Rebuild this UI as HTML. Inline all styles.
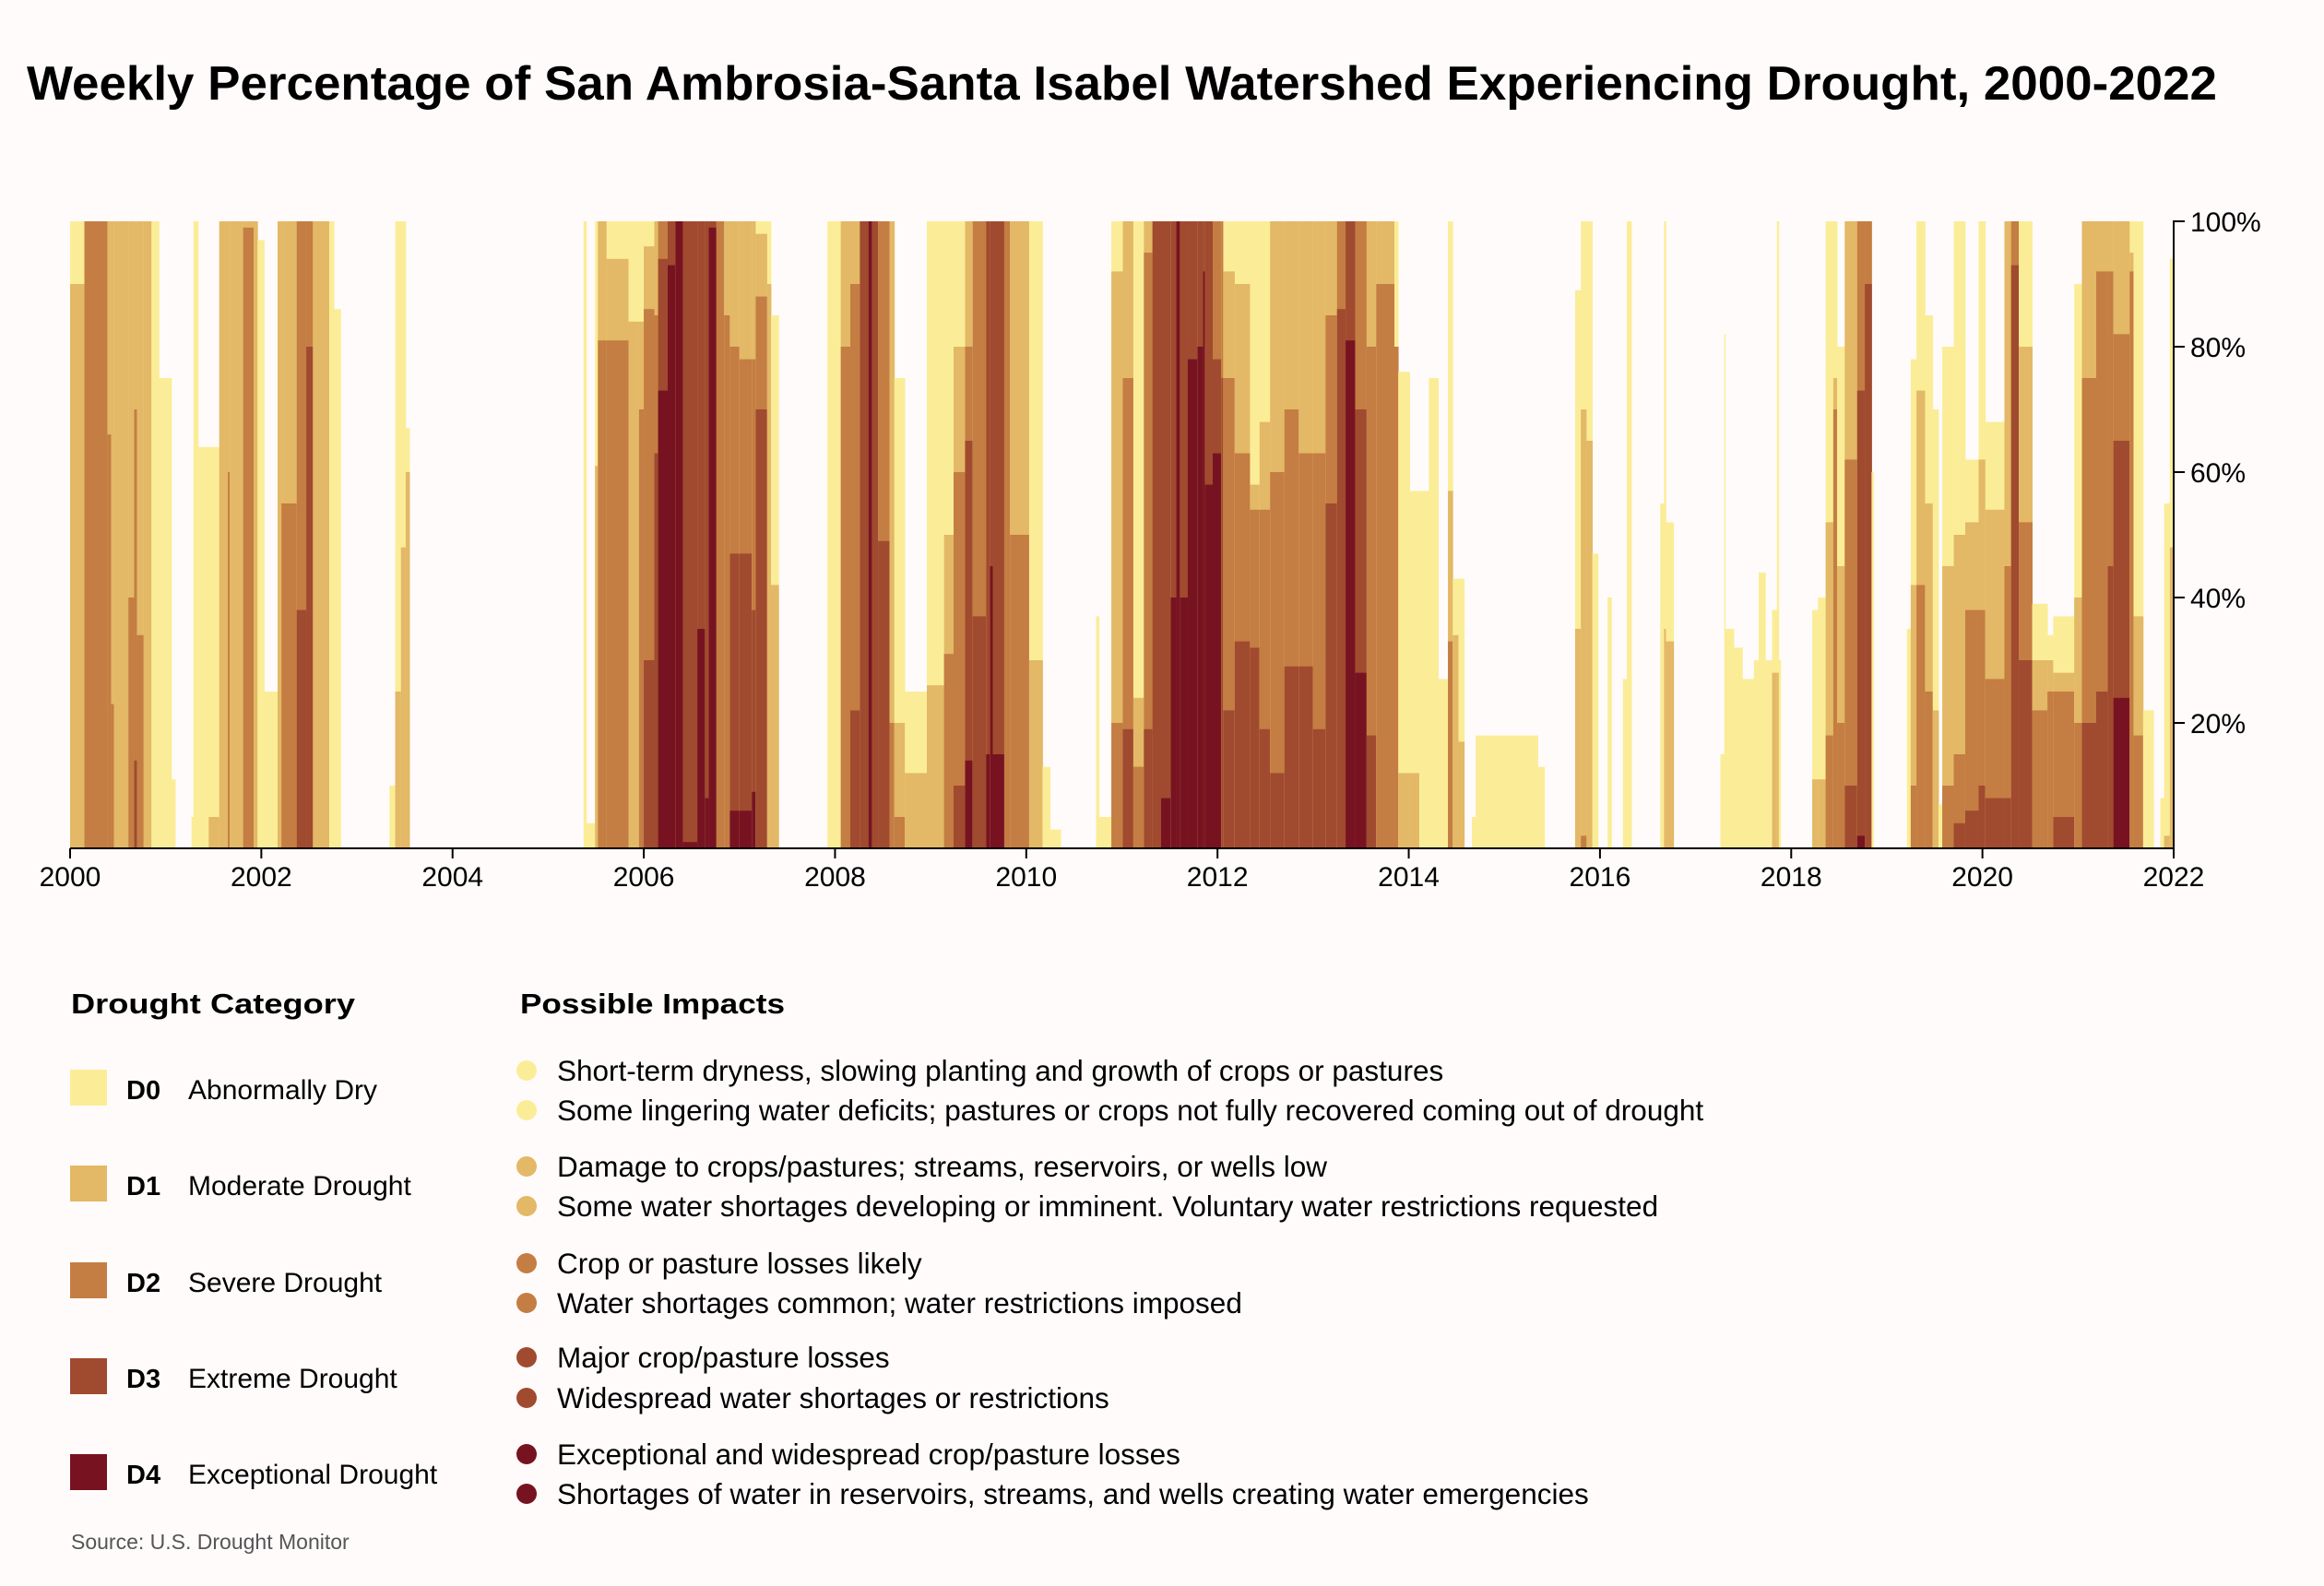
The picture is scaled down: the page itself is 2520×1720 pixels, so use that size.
<!DOCTYPE html>
<html><head><meta charset="utf-8"><style>
html,body{margin:0;padding:0;background:#fffbfb;}
svg{display:block;font-family:"Liberation Sans",sans-serif;}
</style></head><body>
<svg id="chart" width="2520" height="1720" viewBox="0 0 2520 1720" xmlns="http://www.w3.org/2000/svg">
<rect x="0" y="0" width="2520" height="1720" fill="#fffbfb"/>
<text x="29" y="108" font-size="52" font-weight="bold" fill="#000" textLength="2375" lengthAdjust="spacingAndGlyphs">Weekly Percentage of San Ambrosia-Santa Isabel Watershed Experiencing Drought, 2000-2022</text>
<g id="bars"></g>
<g id="axes"></g>

<g>
<text x="77" y="1099" font-size="31" font-weight="bold" textLength="308" lengthAdjust="spacingAndGlyphs">Drought Category</text>
<rect x="76" y="1160" width="40" height="39" fill="#fbed97"/>
<text x="137" y="1192" font-size="29" font-weight="bold">D0</text>
<text x="204" y="1192" font-size="30">Abnormally Dry</text>
<rect x="76" y="1264" width="40" height="39" fill="#e3b866"/>
<text x="137" y="1296" font-size="29" font-weight="bold">D1</text>
<text x="204" y="1296" font-size="30">Moderate Drought</text>
<rect x="76" y="1369" width="40" height="39" fill="#c47d43"/>
<text x="137" y="1401" font-size="29" font-weight="bold">D2</text>
<text x="204" y="1401" font-size="30">Severe Drought</text>
<rect x="76" y="1473" width="40" height="39" fill="#a04a2f"/>
<text x="137" y="1505" font-size="29" font-weight="bold">D3</text>
<text x="204" y="1505" font-size="30">Extreme Drought</text>
<rect x="76" y="1577" width="40" height="39" fill="#771321"/>
<text x="137" y="1609" font-size="29" font-weight="bold">D4</text>
<text x="204" y="1609" font-size="30">Exceptional Drought</text>
</g>

<g font-size="31.5">
<text x="564" y="1099" font-size="31" font-weight="bold" textLength="287" lengthAdjust="spacingAndGlyphs">Possible Impacts</text>
<circle cx="571" cy="1161" r="11" fill="#fbed97"/>
<text x="604" y="1172">Short-term dryness, slowing planting and growth of crops or pastures</text>
<circle cx="571" cy="1204" r="11" fill="#fbed97"/>
<text x="604" y="1215">Some lingering water deficits; pastures or crops not fully recovered coming out of drought</text>
<circle cx="571" cy="1265" r="11" fill="#e3b866"/>
<text x="604" y="1276">Damage to crops/pastures; streams, reservoirs, or wells low</text>
<circle cx="571" cy="1308" r="11" fill="#e3b866"/>
<text x="604" y="1319">Some water shortages developing or imminent. Voluntary water restrictions requested</text>
<circle cx="571" cy="1370" r="11" fill="#c47d43"/>
<text x="604" y="1381">Crop or pasture losses likely</text>
<circle cx="571" cy="1413" r="11" fill="#c47d43"/>
<text x="604" y="1424">Water shortages common; water restrictions imposed</text>
<circle cx="571" cy="1472" r="11" fill="#a04a2f"/>
<text x="604" y="1483">Major crop/pasture losses</text>
<circle cx="571" cy="1516" r="11" fill="#a04a2f"/>
<text x="604" y="1527">Widespread water shortages or restrictions</text>
<circle cx="571" cy="1577" r="11" fill="#771321"/>
<text x="604" y="1588">Exceptional and widespread crop/pasture losses</text>
<circle cx="571" cy="1620" r="11" fill="#771321"/>
<text x="604" y="1631">Shortages of water in reservoirs, streams, and wells creating water emergencies</text>
</g>
<text x="77" y="1680" font-size="23" fill="#555">Source: U.S. Drought Monitor</text>
</svg>
<script>
// segment start times (fractional years); each segment runs to the next start
const segStart = [
2000.00,2000.15,2000.39,2000.43,2000.46,2000.61,2000.67,2000.70,2000.77,2000.85,
2000.93,2001.06,2001.10,2001.27,2001.29,2001.34,2001.45,2001.56,2001.65,2001.67,
2001.81,2001.92,2001.96,2002.03,2002.17,2002.21,2002.37,2002.47,2002.54,2002.71,
2002.76,2002.83,2003.34,2003.40,2003.46,2003.51,2003.55,2005.37,2005.40,2005.49,
2005.52,2005.61,2005.84,2005.95,2006.00,2006.11,2006.15,2006.25,2006.33,2006.41,
2006.56,2006.64,2006.68,2006.76,2006.84,2006.90,2007.00,2007.13,2007.17,2007.29,
2007.33,2007.41,2007.92,2008.06,2008.16,2008.26,2008.35,2008.39,2008.45,2008.57,
2008.62,2008.73,2008.96,2009.14,2009.24,2009.36,2009.44,2009.58,2009.62,2009.65,
2009.77,2009.83,2010.03,2010.17,2010.25,2010.36,2010.73,2010.76,2010.89,2011.01,
2011.12,2011.23,2011.32,2011.41,2011.51,2011.57,2011.61,2011.69,2011.79,2011.85,
2011.87,2011.95,2012.04,2012.06,2012.18,2012.34,2012.44,2012.55,2012.70,2012.85,
2013.00,2013.13,2013.25,2013.34,2013.44,2013.56,2013.66,2013.85,2013.89,2014.01,
2014.11,2014.21,2014.31,2014.41,2014.46,2014.52,2014.58,2014.66,2014.70,2015.35,
2015.42,2015.74,2015.80,2015.86,2015.92,2015.98,2016.08,2016.12,2016.24,2016.28,
2016.33,2016.63,2016.67,2016.69,2016.77,2017.26,2017.30,2017.31,2017.40,2017.49,
2017.61,2017.66,2017.73,2017.80,2017.85,2017.87,2017.89,2018.22,2018.28,2018.36,
2018.44,2018.48,2018.56,2018.69,2018.77,2018.84,2018.86,2019.21,2019.25,2019.31,
2019.40,2019.48,2019.54,2019.58,2019.70,2019.82,2019.96,2020.03,2020.23,2020.30,
2020.38,2020.52,2020.68,2020.74,2020.96,2021.04,2021.19,2021.31,2021.37,2021.54,
2021.58,2021.68,2021.79,2021.86,2021.90,2021.96];
const endYear = 2022.0;
// cumulative % of area in category or worse
const d0 = [
100,100,100,100,100,100,100,100,100,100,
75,11,0,5,100,64,64,100,100,100,
100,100,97,25,100,100,100,100,100,100,
86,0,10,100,100,67,0,100,4,100,
100,100,100,100,100,100,100,100,100,100,
100,100,100,100,100,100,100,100,100,100,
85,0,100,100,100,100,100,100,100,100,
75,25,100,100,100,100,100,100,100,100,
100,100,100,13,3,0,37,5,100,100,
100,100,100,100,100,100,100,100,100,100,
100,100,100,100,100,100,100,100,100,100,
100,100,100,100,100,100,100,100,76,57,
57,75,27,100,43,43,0,5,18,13,
0,89,100,100,47,0,40,0,27,100,
0,55,100,52,0,15,82,35,32,27,
30,44,30,38,100,30,0,38,40,100,
100,80,100,100,100,60,0,35,78,100,
85,70,7,80,100,62,100,68,100,100,
100,39,34,37,90,100,100,100,100,100,
100,22,0,8,55,94];
const d1 = [
90,100,100,100,100,100,100,100,100,0,
0,0,0,0,0,0,5,100,100,100,
100,100,0,0,100,100,100,100,100,0,
0,0,0,25,48,60,0,0,0,61,
100,94,84,84,96,100,100,100,100,100,
100,100,100,100,100,100,100,100,98,90,
42,0,0,100,100,100,100,100,100,100,
20,12,26,50,80,100,100,100,100,100,
100,100,30,0,0,0,0,0,92,100,
24,100,100,100,100,100,100,100,100,100,
100,100,100,92,90,58,68,100,100,100,
100,100,100,100,100,100,100,80,12,12,
0,0,0,57,34,17,0,0,0,0,
0,35,70,65,0,0,0,0,0,0,
0,0,35,33,0,0,0,0,0,0,
0,0,0,28,28,0,0,11,11,52,
75,45,100,100,100,0,0,0,42,73,
55,22,0,45,50,52,62,54,100,100,
80,30,30,28,40,100,100,100,100,95,
37,0,0,0,2,48];
const d2 = [
0,100,66,23,0,40,70,34,0,0,
0,0,0,0,0,0,0,0,60,0,
99,0,0,0,0,55,100,100,0,0,
0,0,0,0,0,0,0,0,0,0,
81,81,0,70,86,85,100,100,100,100,
100,100,100,100,85,80,78,78,88,0,
0,0,0,80,90,100,100,100,100,20,
5,0,0,31,60,80,100,100,100,100,
100,50,0,0,0,0,0,0,20,75,
13,95,100,100,100,100,100,100,100,100,
100,100,100,75,63,54,54,60,70,63,
63,85,100,100,100,80,90,80,0,0,
0,0,0,33,0,0,0,0,0,0,
0,0,2,0,0,0,0,0,0,0,
0,0,0,0,0,0,0,0,0,0,
0,0,0,0,0,0,0,0,0,18,
70,20,62,100,100,0,0,0,10,42,
25,0,0,10,15,38,38,27,45,100,
52,22,25,25,20,75,92,92,82,92,
18,0,0,0,0,0];
const d3 = [
0,0,0,0,0,0,14,0,0,0,
0,0,0,0,0,0,0,0,0,0,
0,0,0,0,0,0,38,80,0,0,
0,0,0,0,0,0,0,0,0,0,
0,0,0,0,30,63,94,100,100,100,
100,100,100,0,0,47,47,38,70,0,
0,0,0,0,22,100,100,100,49,0,
0,0,0,0,10,65,37,100,100,100,
0,0,0,0,0,0,0,0,0,19,
0,19,100,100,100,100,100,100,100,100,
100,78,75,22,33,32,19,12,29,29,
19,55,86,100,70,18,0,0,0,0,
0,0,0,0,0,0,0,0,0,0,
0,0,0,0,0,0,0,0,0,0,
0,0,0,0,0,0,0,0,0,0,
0,0,0,0,0,0,0,0,0,0,
0,0,10,73,90,0,0,0,0,0,
0,0,0,0,4,6,10,8,8,93,
30,0,0,5,0,20,25,45,65,0,
0,0,0,0,0,0];
const d4 = [
0,0,0,0,0,0,0,0,0,0,
0,0,0,0,0,0,0,0,0,0,
0,0,0,0,0,0,0,0,0,0,
0,0,0,0,0,0,0,0,0,0,
0,0,0,0,0,0,73,93,100,1,
35,8,99,0,0,6,6,9,0,0,
0,0,0,0,0,0,100,0,0,0,
0,0,0,0,0,14,0,15,45,15,
0,0,0,0,0,0,0,0,0,0,
0,0,0,8,40,100,40,78,80,92,
58,63,0,0,0,0,0,0,0,0,
0,0,0,81,28,0,0,0,0,0,
0,0,0,0,0,0,0,0,0,0,
0,0,0,0,0,0,0,0,0,0,
0,0,0,0,0,0,0,0,0,0,
0,0,0,0,0,0,0,0,0,0,
0,0,0,2,0,0,0,0,0,0,
0,0,0,0,0,0,0,0,0,0,
0,0,0,0,0,0,0,0,24,0,
0,0,0,0,0,0];
const categories = ["D0","D1","D2","D3","D4"];
const xTickYears = [2000,2002,2004,2006,2008,2010,2012,2014,2016,2018,2020,2022];
const yTickValues = [20,40,60,80,100];
const yTickLabels = ["20%","40%","60%","80%","100%"];

const NS = "http://www.w3.org/2000/svg";
const X0 = 76, X1 = 2357, Y0 = 920, Y1 = 240;
const colors = ["#fbed97","#e3b866","#c47d43","#a04a2f","#771321"];
function xScale(t){ return X0 + (t - 2000) / (2022 - 2000) * (X1 - X0); }
function yScale(p){ return Y0 - p / 100 * (Y0 - Y1); }
const series = [d0, d1, d2, d3, d4];
const bars = document.getElementById('bars');
for (let i = 0; i < segStart.length; i++) {
  const t0 = segStart[i];
  const t1 = i + 1 < segStart.length ? segStart[i + 1] : endYear;
  const xa = xScale(t0), xb = xScale(t1);
  for (let k = 0; k < 5; k++) {
    const v = series[k][i];
    if (!v) continue;
    const r = document.createElementNS(NS, 'rect');
    r.setAttribute('x', xa.toFixed(2));
    r.setAttribute('width', (xb - xa + 0.4).toFixed(2));
    r.setAttribute('y', yScale(v).toFixed(2));
    r.setAttribute('height', (Y0 - yScale(v)).toFixed(2));
    r.setAttribute('fill', colors[k]);
    
    
    bars.appendChild(r);
  }
}
const axes = document.getElementById('axes');
function mk(tag, attrs){ const e = document.createElementNS(NS, tag); for (const a in attrs) e.setAttribute(a, attrs[a]); axes.appendChild(e); return e; }
const xl = mk('line', {x1: X0, x2: X1 + 1, y1: Y0, y2: Y0, stroke: '#000', 'stroke-width': 2});


const yl = mk('line', {x1: X1, x2: X1, y1: Y1 - 1, y2: Y0, stroke: '#000', 'stroke-width': 2});


xTickYears.forEach(function(yr){
  const x = xScale(yr);
  const tk = mk('line', {x1: x, x2: x, y1: Y0, y2: Y0 + 11, stroke: '#000', 'stroke-width': 2});
  
  
  const lb = mk('text', {x: x, y: Y0 + 41, 'font-size': 30, 'text-anchor': 'middle', fill: '#000'});
  lb.textContent = String(yr);
  
  
});
yTickValues.forEach(function(v, i){
  const y = yScale(v);
  const tk = mk('line', {x1: X1, x2: X1 + 12, y1: y, y2: y, stroke: '#000', 'stroke-width': 2});
  
  
  const lb = mk('text', {x: X1 + 18, y: y + 11, 'font-size': 30, fill: '#000'});
  lb.textContent = yTickLabels[i];
  
  
});
</script>
</body></html>
